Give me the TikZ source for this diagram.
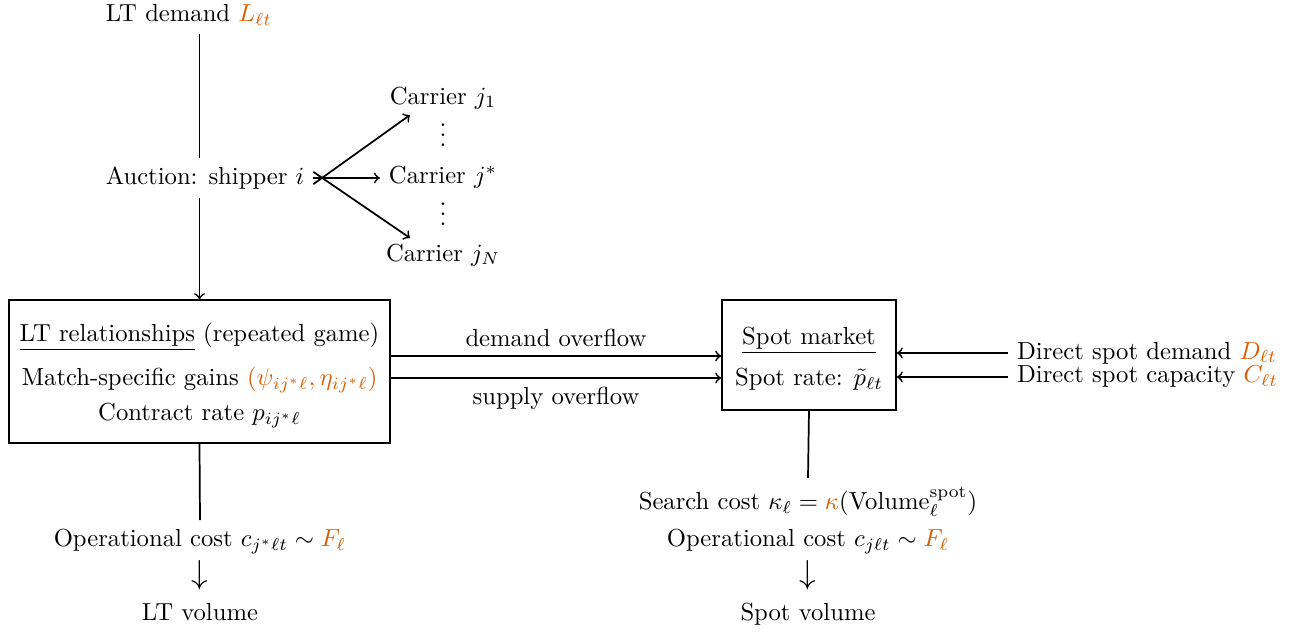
\documentclass[tikz,border=0pt]{standalone}
\usepackage{amsmath}
\usepackage{graphicx}
\usepackage{xcolor}
\definecolor{orng}{HTML}{D95F02}
\newcommand{\og}[1]{{\color{orng}#1}}
\newcommand{\bigdn}{\scalebox{1.35}{$\downarrow$}}
\begin{document}
\begin{tikzpicture}[x=0.4056pt,y=-0.4056pt,>=to,line width=0.7pt,
  every node/.style={font=\fontsize{10}{15}\selectfont},
  lbl/.style={align=center},
  boxnode/.style={draw,align=center,font=\fontsize{10}{14.2}\selectfont}]
\useasboundingbox (0,0) rectangle (1291,633);
% left column
\node[lbl] (ltd) at (189,15) {LT demand $\og{L_{\ell t}}$};
\node[lbl] (auc) at (205,178) {Auction: shipper $i$};
\node[boxnode,minimum width=154.5pt,minimum height=58pt] (lt) at (199.5,371.5)
  {\rule{0pt}{10.7pt}\underline{LT relationships} (repeated game)\\[3.6pt]
  Match-specific gains $\og{(\psi_{ij^*\ell},\eta_{ij^*\ell})}$\\
  Contract rate $p_{ij^*\ell}$};
\node[lbl] (opc) at (200,575) {Operational cost $c_{j^*\ell t}\sim\og{F_\ell}$\\ \bigdn\\ LT volume};
% carriers
\node[lbl] (cj1) at (443,98) {Carrier $j_1$};
\node[lbl] (vd1) at (443,128) {$\vdots$};
\node[lbl] (cjs) at (443,177) {Carrier $j^*$};
\node[lbl] (vd2) at (443,207) {$\vdots$};
\node[lbl] (cjn) at (443,255) {Carrier $j_N$};
\coordinate (t1) at (410,115);
\coordinate (t3) at (410,238);
% spot
\node[boxnode,minimum width=70.6pt,minimum height=44.6pt] (spot) at (809,355)
  {\rule{0pt}{10pt}\underline{Spot market}\\[2.4pt] Spot rate: $\tilde p_{\ell t}$};
\node[lbl,anchor=west] (dsd) at (1008,353) {Direct spot demand $\og{D_{\ell t}}$};
\node[lbl,anchor=west] (dsc) at (1008,377) {Direct spot capacity $\og{C_{\ell t}}$};
\node[lbl] (src) at (808,556) {Search cost $\kappa_\ell=\og{\kappa}(\mathrm{Volume}_\ell^{\mathrm{spot}})$\\
  Operational cost $c_{j\ell t}\sim\og{F_\ell}$\\ \bigdn\\ Spot volume};
% connectors
\draw (ltd.south -| lt.north) -- (auc.north -| lt.north);
\draw[->] (auc.south -| lt.north) -- (lt.north);
\draw[->] ([yshift=-2.5pt]auc.east) -- (t1);
\draw[->] (auc.east) -- (cjs.west |- auc.east);
\draw[->] ([yshift=2.5pt]auc.east) -- (t3);
\draw (lt.south) -- (opc.north);
\draw[->] (lt.east |- 0,356) -- node[above] {demand overflow} (spot.west |- 0,356);
\draw[->] (lt.east |- 0,378) -- node[below] {supply overflow} (spot.west |- 0,378);
\draw[->] (dsd.west) -- (spot.east |- dsd.west);
\draw[->] (dsc.west) -- (spot.east |- dsc.west);
\draw (spot.south) -- (src.north);
\end{tikzpicture}
\end{document}
